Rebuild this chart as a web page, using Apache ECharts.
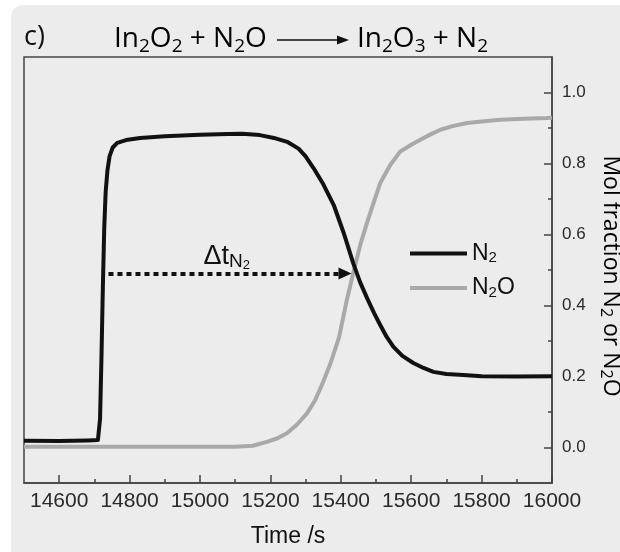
<!DOCTYPE html>
<html>
<head>
<meta charset="utf-8">
<script src="https://cdn.jsdelivr.net/npm/echarts@6/dist/echarts.min.js"></script>
<style>
  html, body { margin: 0; padding: 0; background: #ffffff; }
  #wrap { position: relative; width: 620px; height: 552px; overflow: hidden; }
  #panel { position: absolute; left: 11px; top: 5px; right: 0; bottom: 0; background: #ececec; border-top-left-radius: 12px; }
  #chart { position: absolute; left: 0; top: 0; width: 620px; height: 552px; }
</style>
</head>
<body>
<div id="wrap"><div id="panel"></div><div id="chart"></div></div>
<script>
// N2 mole fraction vs time (s)
const n2Time = [14500, 14600, 14680, 14710, 14716, 14720, 14724, 14728, 14732, 14737, 14743, 14752, 14765, 14790, 14830, 14900, 15000, 15080, 15120, 15170, 15210, 15250, 15280, 15300, 15322, 15350, 15380, 15408, 15435, 15455, 15475, 15495, 15512, 15530, 15549, 15575, 15606, 15635, 15663, 15700, 15748, 15800, 15900, 16000];
const n2Frac = [0.019, 0.018, 0.020, 0.021, 0.08, 0.25, 0.45, 0.62, 0.72, 0.78, 0.82, 0.845, 0.858, 0.866, 0.872, 0.877, 0.881, 0.883, 0.884, 0.880, 0.872, 0.860, 0.842, 0.820, 0.788, 0.742, 0.683, 0.605, 0.520, 0.465, 0.420, 0.378, 0.345, 0.312, 0.284, 0.258, 0.238, 0.224, 0.213, 0.207, 0.204, 0.201, 0.200, 0.201];

// N2O mole fraction vs time (s)
const n2oTime = [14500, 14800, 15100, 15150, 15190, 15220, 15247, 15275, 15304, 15327, 15350, 15370, 15395, 15417, 15435, 15455, 15475, 15495, 15512, 15540, 15569, 15600, 15626, 15655, 15683, 15720, 15759, 15800, 15853, 15920, 15986, 16000];
const n2oFrac = [0.002, 0.002, 0.002, 0.005, 0.016, 0.026, 0.040, 0.064, 0.096, 0.133, 0.185, 0.235, 0.310, 0.415, 0.490, 0.570, 0.635, 0.695, 0.745, 0.795, 0.834, 0.853, 0.867, 0.882, 0.895, 0.906, 0.914, 0.918, 0.923, 0.926, 0.928, 0.929];

// axis ranges and tick positions
const xRange = [14500, 16000];
const yRange = [-0.1, 1.1];
const xMajorTicks = [14600, 14800, 15000, 15200, 15400, 15600, 15800, 16000];
const xMinorTicks = [14700, 14900, 15100, 15300, 15500, 15700, 15900];
const yMajorTicks = [0, 0.2, 0.4, 0.6, 0.8, 1.0];
const yMinorTicks = [0.1, 0.3, 0.5, 0.7, 0.9];

// delay arrow from the N2 breakthrough to the crossing point
const dtStart = [14740, 0.49];
const dtEnd = [15412, 0.49];

const zip = (xs, ys) => xs.map((x, i) => [x, ys[i]]);

const SANS = '"Liberation Sans", Arial, sans-serif';
const TITLE = '"Open Sans", "Liberation Sans", sans-serif';
const INK = '#111111';
const AXIS = '#444444';

const chart = echarts.init(document.getElementById('chart'), null, { renderer: 'canvas' });

const subRich = (main, sub) => ({
  m: { fontSize: main, fontFamily: TITLE, color: INK, lineHeight: main + 6 },
  s: { fontSize: sub, fontFamily: TITLE, color: INK, lineHeight: Math.round(sub * 0.7), verticalAlign: 'bottom' }
});

const axisLineStyle = { color: AXIS, width: 1.5 };

chart.setOption({
  backgroundColor: 'transparent',
  animation: false,
  grid: { left: 24, right: 68, top: 57, bottom: 69, show: true, borderColor: AXIS, borderWidth: 1.5, backgroundColor: 'transparent' },
  xAxis: [
    {
      type: 'value', min: xRange[0], max: xRange[1], position: 'bottom',
      axisLine: { show: true, onZero: false, lineStyle: axisLineStyle },
      axisTick: { show: true, inside: true, length: 8, customValues: xMajorTicks, lineStyle: axisLineStyle },
      axisLabel: { customValues: xMajorTicks, formatter: v => String(v), fontSize: 21, fontFamily: SANS, color: '#2a2a2a', margin: 8 },
      splitLine: { show: false }
    },
    {
      type: 'value', min: xRange[0], max: xRange[1], position: 'bottom',
      axisLine: { show: false, onZero: false },
      axisTick: { show: true, inside: true, length: 4, customValues: xMinorTicks, lineStyle: axisLineStyle },
      axisLabel: { show: false },
      splitLine: { show: false }
    }
  ],
  yAxis: [
    {
      type: 'value', min: yRange[0], max: yRange[1], position: 'right',
      axisLine: { show: true, onZero: false, lineStyle: axisLineStyle },
      axisTick: { show: true, inside: true, length: 8, customValues: yMajorTicks, lineStyle: axisLineStyle },
      axisLabel: { customValues: yMajorTicks, formatter: v => v.toFixed(1), fontSize: 17, fontFamily: SANS, color: '#2a2a2a', margin: 10 },
      splitLine: { show: false }
    },
    {
      type: 'value', min: yRange[0], max: yRange[1], position: 'right',
      axisLine: { show: false, onZero: false },
      axisTick: { show: true, inside: true, length: 4, customValues: yMinorTicks, lineStyle: axisLineStyle },
      axisLabel: { show: false },
      splitLine: { show: false }
    }
  ],
  legend: {
    orient: 'vertical', left: 410, top: 242, padding: 0, itemGap: 11,
    icon: 'rect', itemWidth: 57, itemHeight: 4,
    data: ['N2', 'N2O'],
    formatter: name => name === 'N2' ? '{m|N}{s|2}' : '{m|N}{s|2}{m|O}',
    textStyle: {
      rich: {
        m: { fontSize: 23, fontFamily: SANS, color: INK, lineHeight: 24 },
        s: { fontSize: 15, fontFamily: SANS, color: INK, lineHeight: 11, verticalAlign: 'bottom' }
      }
    }
  },
  series: [
    {
      name: 'N2O', type: 'line', xAxisIndex: 0, yAxisIndex: 0,
      data: zip(n2oTime, n2oFrac), symbol: 'none', z: 2,
      lineStyle: { color: '#a9a9a9', width: 4, join: 'round' }, itemStyle: { color: '#a9a9a9' }
    },
    {
      name: 'N2', type: 'line', xAxisIndex: 0, yAxisIndex: 0,
      data: zip(n2Time, n2Frac), symbol: 'none', z: 3,
      lineStyle: { color: INK, width: 4, join: 'round' }, itemStyle: { color: INK },
      markLine: {
        silent: true, animation: false,
        symbol: ['none', 'triangle'], symbolSize: [12, 13],
        lineStyle: { color: INK, width: 4, type: [5, 4] },
        label: {
          show: true, position: 'middle', distance: 2,
          formatter: '{d|Δt}{n|N}{s|2}',
          rich: {
            d: { fontSize: 27, fontFamily: SANS, color: INK, lineHeight: 30 },
            n: { fontSize: 19, fontFamily: SANS, color: INK, lineHeight: 23, verticalAlign: 'bottom' },
            s: { fontSize: 13, fontFamily: SANS, color: INK, lineHeight: 8, verticalAlign: 'bottom' }
          }
        },
        data: [[{ coord: dtStart }, { coord: dtEnd }]]
      }
    }
  ],
  graphic: [
    { type: 'text', x: 24, y: 37, style: { text: 'c)', fontSize: 27, fontFamily: TITLE, fill: INK, verticalAlign: 'middle' } },
    { type: 'text', x: 114, y: 39, style: { text: '{m|In}{s|2}{m|O}{s|2}{m| + N}{s|2}{m|O}', rich: subRich(28, 19), verticalAlign: 'middle' } },
    { type: 'line', shape: { x1: 277, y1: 40, x2: 340, y2: 40 }, style: { stroke: INK, lineWidth: 1.6 } },
    { type: 'polygon', shape: { points: [[337, 35.5], [349, 40], [337, 44.5]] }, style: { fill: INK } },
    { type: 'text', x: 357, y: 39, style: { text: '{m|In}{s|2}{m|O}{s|3}{m| + N}{s|2}', rich: subRich(28, 19), verticalAlign: 'middle' } },
    { type: 'text', x: 288, y: 537, style: { text: 'Time /s', fontSize: 23, fontFamily: SANS, fill: INK, align: 'center', verticalAlign: 'middle' } },
    {
      type: 'text', x: 611, y: 276, rotation: -Math.PI / 2,
      style: {
        text: '{m|Mol fraction N}{s|2}{m| or N}{s|2}{m|O}', align: 'center', verticalAlign: 'middle',
        rich: {
          m: { fontSize: 23, fontFamily: TITLE, color: INK, lineHeight: 26 },
          s: { fontSize: 16, fontFamily: TITLE, color: INK, lineHeight: 11, verticalAlign: 'bottom' }
        }
      }
    }
  ]
});
</script>
</body>
</html>
